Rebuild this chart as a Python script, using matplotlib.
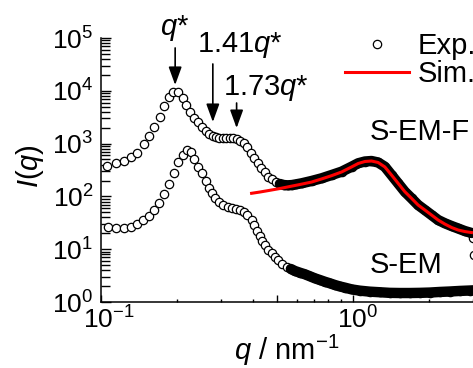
import numpy as np
import matplotlib
matplotlib.use('Agg')
import matplotlib.pyplot as plt
import matplotlib.ticker as mticker
import matplotlib.transforms as mtransforms

plt.rcParams['font.family'] = 'Liberation Sans'
plt.rcParams['mathtext.fontset'] = 'custom'
plt.rcParams['mathtext.rm'] = 'Liberation Sans'
plt.rcParams['mathtext.it'] = 'Liberation Sans:italic'

# S-EM-F, experimental (upper curve)
q_f = np.array([0.1059, 0.1147, 0.1234, 0.1315, 0.1393, 0.1482, 0.1550, 0.1627, 0.1714, 0.1783,
                0.1866, 0.1936, 0.2026, 0.2109, 0.2184, 0.2265, 0.2350, 0.2426, 0.2509, 0.2605,
                0.2695, 0.2790, 0.2860, 0.2953, 0.3048, 0.3148, 0.3249, 0.3356, 0.3465, 0.3578,
                0.3694, 0.3814, 0.3937, 0.4065, 0.4198, 0.4334, 0.4475, 0.4620, 0.4771, 0.4948,
                0.5133, 0.5324, 0.5521, 0.5729, 0.5940, 0.6258, 0.6856, 0.7511, 0.8232, 0.9020,
                0.9881, 1.050, 1.116, 1.186, 1.260, 1.340, 1.424, 1.513, 1.608, 1.710,
                1.816, 1.931, 2.053, 2.181, 2.318, 2.465, 2.618, 2.783, 2.958, 3.00, 3.03])
I_f = np.array([381, 424, 474, 565, 655, 982, 1393, 2036, 3230, 5150,
                7730, 9490, 9370, 7210, 5270, 4020, 3100, 2510, 2020, 1695,
                1520, 1393, 1322, 1294, 1276, 1265, 1259, 1259, 1233, 1144,
                1005, 844, 678, 545, 435, 350, 290, 238, 209, 187,
                172, 164, 162, 164, 169, 177, 196, 220, 254, 294,
                365, 424, 458, 468, 439, 365, 254, 177, 123, 92,
                68.7, 55.3, 44.4, 35.7, 31.0, 27.5, 24.7, 22.1, 20.3, 16.3, 7.6])

# S-EM, experimental (lower curve)
q_s = np.array([0.1069, 0.1150, 0.1231, 0.1312, 0.1390, 0.1468, 0.1547, 0.1623, 0.1703, 0.1786,
                0.1866, 0.1949, 0.2026, 0.2109, 0.2188, 0.2270, 0.2346, 0.2422, 0.2509, 0.2603,
                0.2695, 0.2770, 0.2847, 0.2947, 0.3062, 0.3199, 0.3310, 0.3434, 0.3562, 0.3694,
                0.3814, 0.3963, 0.4065, 0.4159, 0.4275, 0.4374, 0.4475, 0.4600, 0.4758, 0.4903,
                0.5052, 0.5250, 0.5456, 0.5675, 0.5886, 0.6163, 0.6450, 0.6752, 0.7067, 0.7396,
                0.7742, 0.8103, 0.8482, 0.8880, 0.9296, 0.9908, 1.066, 1.168, 1.280, 1.402,
                1.536, 1.684, 1.845, 2.021, 2.214, 2.426, 2.658, 2.912, 2.99])
I_s = np.array([26.7, 24.9, 24.9, 26.7, 29.7, 35.3, 43.1, 55.3, 76.6, 112,
                172, 274, 442, 608, 757, 684, 500, 368, 274, 193,
                144, 114, 93.3, 77.3, 68.7, 63.8, 61.1, 57.7, 55.3, 51.3,
                45.4, 35.7, 28.7, 22.6, 17.8, 14.3, 11.9, 9.87, 8.36, 7.21,
                6.24, 5.36, 4.66, 4.22, 3.87, 3.59, 3.35, 3.07, 2.81, 2.61,
                2.42, 2.26, 2.10, 1.97, 1.87, 1.73, 1.64, 1.57, 1.53, 1.49,
                1.48, 1.48, 1.49, 1.51, 1.55, 1.58, 1.62, 1.65, 1.66])

# simulation for S-EM-F
q_sim = np.array([0.3963, 0.4275, 0.4684, 0.5133, 0.5623, 0.6163, 0.6856, 0.7511, 0.8232, 0.9020,
                  0.9881, 1.050, 1.116, 1.186, 1.260, 1.340, 1.424, 1.513, 1.608, 1.710,
                  1.816, 1.931, 2.053, 2.181, 2.318, 2.465, 2.618, 2.783, 2.958])
I_sim = np.array([114.5, 121, 130.5, 141, 154, 168, 187, 214, 247, 290,
                  361, 420, 458, 468, 439, 361, 254, 177, 123, 92,
                  68.7, 55.3, 44.4, 35.7, 30.0, 25.8, 23.1, 21.6, 20.7])

# peak positions marked with arrows (q, arrow tail I, arrow tip I)
peak_labels = ['$q$*', '1.41$q$*', '1.73$q$*']
peak_q = [0.197, 0.278, 0.3455]
peak_tail = [64800, 32200, 5870]
peak_tip = [12900, 2565, 1973]

W, H = 473, 368
fig = plt.figure(figsize=(W / 100, H / 100), dpi=100)
ax = fig.add_axes([101 / W, 66 / H, 372 / W, 264 / H])
ax.set_xscale('log')
ax.set_yscale('log')
ax.set_xlim(0.1, 3.0)
ax.set_ylim(1, 1e5)

mk = dict(marker='o', ls='none', ms=6, mfc='white', mec='black', mew=0.9, clip_on=False)
h_exp, = ax.plot(q_f, I_f, zorder=3, **mk)
ax.plot(q_s, I_s, zorder=3, **mk)

# dense part of the data: markers overlap into a solid band
d = (q_f >= 0.5) & (q_f <= 2.96)
ax.plot(q_f[d], I_f[d], color='black', lw=7.5, solid_capstyle='round', zorder=4)
d = q_s >= 0.56
ax.plot(q_s[d], I_s[d], color='black', lw=7.5, solid_capstyle='round', zorder=4, clip_on=False)

h_sim, = ax.plot(q_sim, I_sim, color='#ff0000', lw=2.2, zorder=5)

for s in ['top', 'right']:
    ax.spines[s].set_visible(False)
for s in ['left', 'bottom']:
    ax.spines[s].set_linewidth(1.1)

ax.xaxis.set_major_locator(mticker.FixedLocator([0.1, 0.5, 1.0]))
ax.xaxis.set_major_formatter(mticker.FuncFormatter(
    lambda v, p: r'$\mathregular{10^{%d}}$' % round(np.log10(v)) if v in (0.1, 1.0) else ''))
ax.xaxis.set_minor_locator(mticker.FixedLocator([0.2, 0.3, 0.4, 0.6, 0.7, 0.8, 0.9, 2, 3]))
ax.xaxis.set_minor_formatter(mticker.NullFormatter())
ax.yaxis.set_major_locator(mticker.LogLocator(base=10, numticks=10))
ax.yaxis.set_minor_locator(mticker.LogLocator(base=10, subs=np.arange(2, 10), numticks=10))
ax.yaxis.set_minor_formatter(mticker.NullFormatter())

ax.tick_params(which='both', direction='in', top=False, right=False, width=1.0, labelsize=19)
ax.tick_params(axis='x', which='major', length=5, pad=3)
ax.tick_params(axis='x', which='minor', length=2.5)
ax.tick_params(axis='y', which='major', length=7, pad=5.5)
ax.tick_params(axis='y', which='minor', length=6.5)

# legend
ax.legend([h_exp, h_sim], ['Exp.', 'Sim.'], loc='upper left',
          bbox_to_anchor=(345 / W, 1 - 32 / H), bbox_transform=fig.transFigure,
          frameon=False, borderpad=0, borderaxespad=0, handlelength=2.2,
          handletextpad=0.3, labelspacing=0.0, fontsize=21, numpoints=1)

# arrows + labels for peaks
for q, t0, t1 in zip(peak_q, peak_tail, peak_tip):
    ax.annotate('', xy=(q, t1), xytext=(q, t0), annotation_clip=False,
                arrowprops=dict(arrowstyle='-|>,head_length=0.55,head_width=0.2',
                                mutation_scale=20, lw=1.2, color='black',
                                shrinkA=0, shrinkB=0))

def ftext(x, y, s, **kw):
    fig.text(x / W, 1 - y / H, s, fontsize=21, va='baseline', **kw)

ftext(175, 35, peak_labels[0], ha='center')
ftext(197, 52, peak_labels[1], ha='left')
ftext(223, 95, peak_labels[2], ha='left')
ftext(370, 140, 'S-EM-F', ha='left')
ftext(370, 273, 'S-EM', ha='left')
ftext(287, 360, r'$q$ / nm$^{-1}$', ha='center')
fig.text(30 / W, 1 - 166 / H, r'$I$($q$)', fontsize=21, rotation=90, ha='center', va='center')

# x tick labels: centre the "10" on the tick, superscript sticks out to the right
fig.canvas.draw()
for tick, dx in zip(ax.xaxis.get_major_ticks(), [6.0, 0.0, 3.6]):
    lab = tick.label1
    lab.set_transform(lab.get_transform() +
                      mtransforms.ScaledTranslation(dx / 72, 0, fig.dpi_scale_trans))

fig.savefig('out.png', dpi=100)
